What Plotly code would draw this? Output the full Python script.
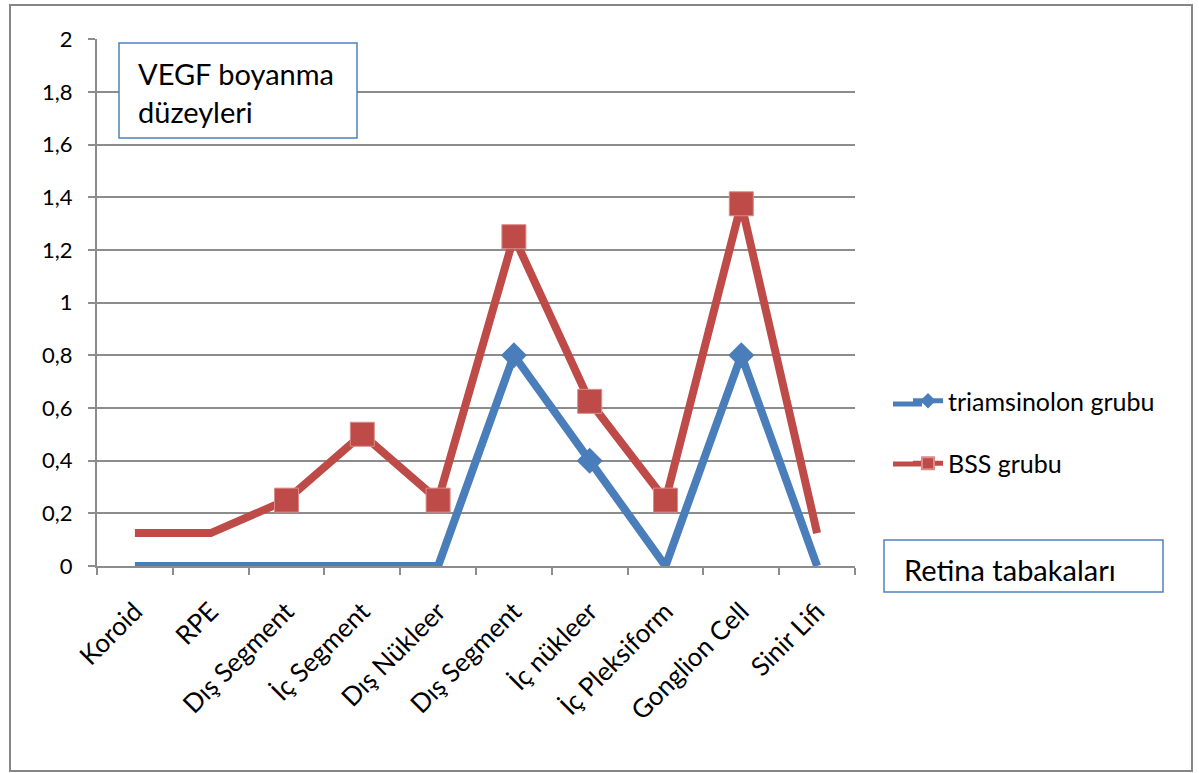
import plotly.graph_objects as go

categories = ["Koroid", "RPE", "Dış Segment", "İç Segment", "Dış Nükleer",
              "Dış Segment", "İç nükleer", "İç Pleksiform", "Gonglion Cell", "Sinir Lifi"]
triamsinolon = [0, 0, 0, 0, 0, 0.8, 0.4, 0, 0.8, 0]
bss = [0.125, 0.125, 0.25, 0.5, 0.25, 1.25, 0.625, 0.25, 1.375, 0.125]
y_ticks = [0, 0.2, 0.4, 0.6, 0.8, 1.0, 1.2, 1.4, 1.6, 1.8, 2.0]
y_tick_labels = ["0", "0,2", "0,4", "0,6", "0,8", "1", "1,2", "1,4", "1,6", "1,8", "2"]

FONT = "Lato"
BLUE = "#4A7EBB"
RED = "#BE4B48"
GRID = "#8C8C8C"

xs = list(range(len(categories)))

def msizes(vals, s):
    return [s if v >= 0.2 else 0 for v in vals]

fig = go.Figure()
fig.add_trace(go.Scatter(
    x=xs, y=triamsinolon, name="triamsinolon grubu", mode="lines+markers",
    line=dict(color=BLUE, width=8),
    marker=dict(symbol="diamond", size=msizes(triamsinolon, 20), color=BLUE, opacity=1,
                line=dict(width=0)),
    legendgroup="a",
))
fig.add_trace(go.Scatter(
    x=xs, y=bss, name="BSS grubu", mode="lines+markers",
    line=dict(color=RED, width=8),
    marker=dict(symbol="square", size=msizes(bss, 24), color=RED, opacity=1,
                line=dict(width=1, color="#D98C8A")),
    legendgroup="b",
))

L, R, T, B = 97, 855, 39, 566
W, H = 1199, 773
pw, ph = R - L, B - T

def px(x):
    return (x - L) / pw

def py(y):
    return (B - y) / ph

shapes = [
    dict(type="rect", xref="paper", yref="paper", x0=px(10), x1=px(1192), y0=py(771), y1=py(5),
         line=dict(color="#868686", width=2), layer="below"),
    dict(type="rect", xref="paper", yref="paper", x0=px(119), x1=px(357), y0=py(138), y1=py(43),
         line=dict(color="#4F81BD", width=1.5), fillcolor="white", layer="above"),
    dict(type="rect", xref="paper", yref="paper", x0=px(884), x1=px(1163), y0=py(592), y1=py(540),
         line=dict(color="#4F81BD", width=1.5), fillcolor="white", layer="above"),
    # lengthen the legend line samples to the reference's width
    dict(type="line", xref="paper", yref="paper", x0=px(893), x1=px(922), y0=py(404), y1=py(404),
         line=dict(color=BLUE, width=5), layer="above"),
    dict(type="line", xref="paper", yref="paper", x0=px(893), x1=px(922), y0=py(464), y1=py(464),
         line=dict(color=RED, width=5), layer="above"),
]

annotations = [
    dict(xref="paper", yref="paper", x=px(136), y=py(93), xanchor="left", yanchor="middle",
         text="VEGF boyanma<br>düzeyleri", showarrow=False, align="left",
         font=dict(family=FONT, size=29, color="black")),
    dict(xref="paper", yref="paper", x=px(902), y=py(569), xanchor="left", yanchor="middle",
         text="Retina tabakaları", showarrow=False, align="left",
         font=dict(family=FONT, size=29, color="black")),
]

fig.update_layout(
    width=W, height=H,
    margin=dict(l=L, r=W - R, t=T, b=H - B),
    paper_bgcolor="white", plot_bgcolor="white",
    font=dict(family=FONT, size=22, color="black"),
    showlegend=True,
    legend=dict(x=px(908), y=py(378), xanchor="left", yanchor="top",
                font=dict(family=FONT, size=25, color="black"),
                tracegroupgap=27, itemsizing="constant", bgcolor="rgba(0,0,0,0)"),
    shapes=shapes,
    annotations=annotations,
    xaxis=dict(range=[-0.5, len(categories) - 0.5], tickmode="array", tickvals=xs,
               ticktext=categories, tickangle=-45, ticks="", showgrid=False,
               showline=True, linecolor=GRID, linewidth=2, zeroline=False,
               tickfont=dict(family=FONT, size=26, color="black"), ticklabelstandoff=18,
               minor=dict(tickmode="array", tickvals=[i - 0.5 for i in range(len(categories) + 1)],
                          ticks="outside", ticklen=7, tickcolor=GRID, tickwidth=2, showgrid=False)),
    yaxis=dict(range=[0, 2.0005], tickmode="array", tickvals=y_ticks, ticktext=y_tick_labels,
               ticks="outside", ticklen=7, tickcolor=GRID, tickwidth=2,
               showgrid=True, gridcolor=GRID, gridwidth=2,
               showline=True, linecolor=GRID, linewidth=2, zeroline=False,
               tickfont=dict(family=FONT, size=22, color="black"), ticklabelstandoff=11),
)

fig.write_html("out.html")
